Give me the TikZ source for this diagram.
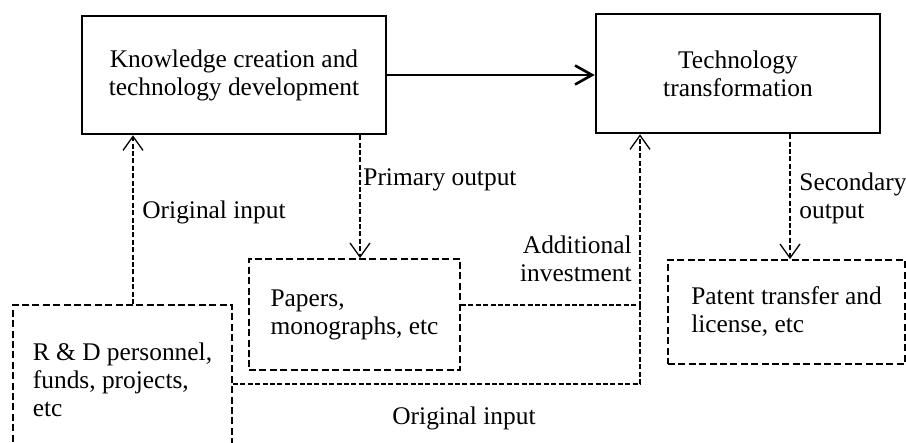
\documentclass[tikz,border=0pt]{standalone}
\usepackage{fontspec}
\setmainfont{Liberation Serif}
\usetikzlibrary{arrows.meta}

\tikzset{
  stage/.style={draw, line width=1.3pt, align=center, inner sep=0pt},
  output/.style={draw, line width=0.9pt, dash pattern=on 3.5pt off 1.7pt, align=left, inner sep=0pt},
  flow/.style={line width=0.65pt, dash pattern=on 2.5pt off 1.2pt},
  flowarrow/.style={flow, -{Straight Barb[length=7pt,width=10pt,line width=0.65pt]}},
  mainarrow/.style={line width=1.3pt, -{Straight Barb[length=8.5pt,width=9.5pt]}},
  lbl/.style={inner sep=0pt}
}

\begin{document}
\begin{tikzpicture}[x=0.5pt,y=-0.5pt,font=\fontsize{12.7}{14}\selectfont]
\clip (0,0) rectangle (906,443);

% the two stages
\node[stage, minimum width=152pt, minimum height=59pt] (know) at (234,75)
  {Knowledge creation and\\technology development};
\node[stage, minimum width=142pt, minimum height=59.5pt] (tech) at (738,73.5)
  {Technology\\transformation};

% inputs and outputs
\node[output, minimum width=109.5pt, minimum height=75pt] (rd) at (122.5,380)
  {R \& D personnel,\\funds, projects,\\etc};
\node[output, minimum width=105.5pt, minimum height=55.5pt] (papers) at (354.5,314.5)
  {Papers,\\monographs, etc};
\node[output, minimum width=118.5pt, minimum height=52pt] (patent) at (786.5,312)
  {Patent transfer and\\license, etc};

\coordinate (oi) at (133,0);
\coordinate (po) at (360,0);
\coordinate (so) at (790,0);
\coordinate (ai) at (640,305);
\coordinate (oj) at (640,384);

\draw[mainarrow] (know.east) -- (know.east -| tech.west);
\draw[flowarrow] (oi |- rd.north) -- (oi |- know.south);
\draw[flowarrow] (po |- know.south) -- (po |- papers.north);
\draw[flowarrow] (so |- tech.south) -- (so |- patent.north);
\draw[flowarrow] (papers.east |- ai) -- (ai) -- (ai |- tech.south);
\draw[flow] (rd.east |- oj) -- (oj) -- (ai);

% labels
\node[lbl, anchor=west] (oilbl) at (142,212) {Original input};
\node[lbl, anchor=west] (polbl) at (363,180) {Primary output};
\node[lbl, anchor=west, align=left] (solbl) at (799,198) {Secondary\\output};
\node[lbl, anchor=east, align=right] (ailbl) at (632,259) {Additional\\investment};
\node[lbl] (ojlbl) at (464,418) {Original input};
\end{tikzpicture}
\end{document}
